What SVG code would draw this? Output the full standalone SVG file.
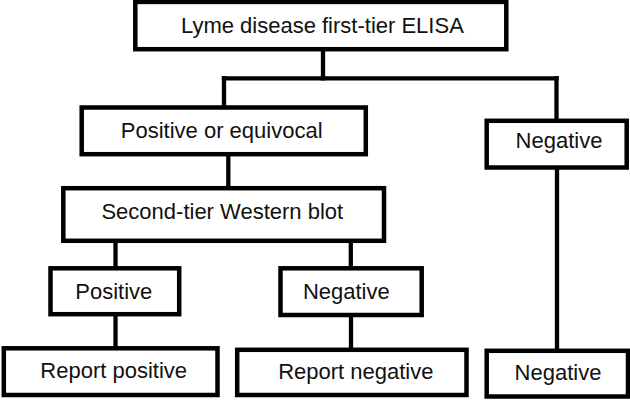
<svg xmlns="http://www.w3.org/2000/svg" width="630" height="400" viewBox="0 0 630 400">
<style>
.box{fill:#fff;stroke:#000;stroke-width:4.5}
.lbl{font-family:"Liberation Sans",Arial,sans-serif;font-size:22px;fill:#111;text-anchor:middle}
.conn{fill:none;stroke:#000;stroke-width:4.3;stroke-linecap:square}
</style>
<rect width="630" height="400" fill="#fff"/>
<g id="connectors">
<path class="conn" d="M323 49.2V78.3"/>
<path class="conn" d="M224 78.3H556.5"/>
<path class="conn" d="M224 78.3V107.5"/>
<path class="conn" d="M556.5 78.3V120.8"/>
<path class="conn" d="M228.3 154.2V188.2"/>
<path class="conn" d="M115.5 240.8V268.3"/>
<path class="conn" d="M350.8 240.8V268.3"/>
<path class="conn" d="M115.5 314.2V348.3"/>
<path class="conn" d="M351 315V349.8"/>
<path class="conn" d="M557 167.5V350.8"/>
</g>
<g id="elisa">
<rect class="box" x="135.3" y="1.9" width="371" height="47.3"/>
<text class="lbl" x="322.4" y="33.3">Lyme disease first-tier ELISA</text>
</g>
<g id="pos-equiv">
<rect class="box" x="81.7" y="107.5" width="284.1" height="46.7"/>
<text class="lbl" x="221.7" y="137.7">Positive or equivocal</text>
</g>
<g id="neg-first">
<rect class="box" x="486.7" y="120.8" width="140" height="46.7"/>
<text class="lbl" x="559" y="147.7">Negative</text>
</g>
<g id="western">
<rect class="box" x="63.3" y="188.2" width="320.7" height="52.6"/>
<text class="lbl" x="222.3" y="219">Second-tier Western blot</text>
</g>
<g id="wb-pos">
<rect class="box" x="50.5" y="268.3" width="128.7" height="45.9"/>
<text class="lbl" x="113.8" y="299.3">Positive</text>
</g>
<g id="wb-neg">
<rect class="box" x="280.5" y="268.3" width="141.2" height="46.7"/>
<text class="lbl" x="346.3" y="299.3">Negative</text>
</g>
<g id="report-pos">
<rect class="box" x="3.8" y="348.3" width="213.7" height="46.7"/>
<text class="lbl" x="113.7" y="377.7">Report positive</text>
</g>
<g id="report-neg">
<rect class="box" x="237.2" y="349.8" width="229.3" height="45.2"/>
<text class="lbl" x="355.8" y="379.3">Report negative</text>
</g>
<g id="neg-final">
<rect class="box" x="486.7" y="350.8" width="141.3" height="45.7"/>
<text class="lbl" x="558" y="380">Negative</text>
</g>
</svg>
